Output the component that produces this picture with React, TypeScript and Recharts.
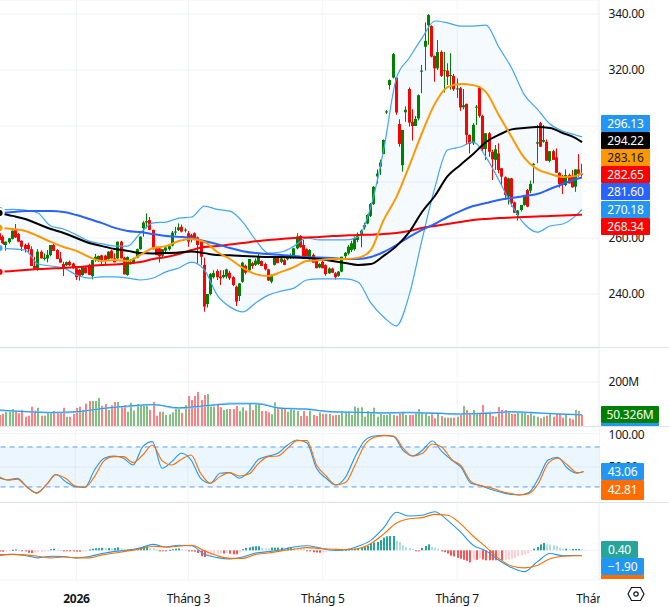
import { Area, Bar, CartesianGrid, ComposedChart, Line, ReferenceArea, ReferenceLine, XAxis, YAxis } from 'recharts'

// --- DATA ---
// one row per trading session: open, high, low, close
const OHLC: number[][] = [
  [261.7, 262.5, 259, 259.3], [260.5, 261, 257.3, 257.5], [257.5, 258.7, 255.5, 258.7], [258.5, 260, 258, 259.9], [259.7, 262.7, 259.5, 262.6], [262.8, 265, 260, 260.2],
  [261.4, 261.8, 258.5, 258.7], [259, 259.2, 255.3, 256.9], [257.5, 258, 254.8, 256], [257.5, 258.3, 255, 256], [256, 257, 250, 250], [250, 253.3, 248.8, 249.1],
  [249.2, 256, 248.3, 255.1], [255.1, 255.6, 252.7, 252.7], [252.5, 254.5, 252, 253], [252.7, 255.7, 251.3, 254], [253.9, 257.5, 253.5, 257.5], [257.5, 258, 255.3, 255.4],
  [255.7, 256, 252.5, 252.5], [252.7, 255, 251.2, 251.2], [250.7, 251.5, 246.4, 249.5], [250.3, 251.6, 250, 251.4], [251.5, 252, 250, 250.3], [250.9, 251.2, 248.9, 249.2],
  [249.2, 249.5, 245, 246], [248.6, 249, 244.8, 246.4], [246.8, 249.8, 246.5, 249.8], [249.5, 250, 247.4, 247.4], [250.4, 250.8, 246.8, 246.8], [246.4, 252.1, 245.2, 252.1],
  [252.4, 254.3, 251.5, 253.3], [252.1, 253.7, 251.5, 253.6], [253.8, 254, 250.7, 252], [253.7, 254, 250.4, 252], [252.5, 255.3, 252, 255.1], [255.5, 255.8, 252.7, 252.7],
  [252.7, 254.5, 251.3, 251.3], [252.7, 258.7, 252.5, 258.7], [258.7, 259, 252.7, 252.7], [253, 253.3, 247, 247], [246.8, 253.4, 246.5, 253.2], [250.8, 252.5, 250.5, 251.5],
  [251.2, 253, 250.8, 252.7], [253, 256.2, 252.8, 256], [256, 260.5, 255.8, 260.5], [263.5, 266, 260.5, 265.5], [265.5, 268.8, 263.5, 266], [266.4, 267.5, 262.8, 262.9],
  [262.9, 263, 255.9, 256], [256.3, 256.8, 253.9, 253.9], [256.3, 256.5, 251.2, 253.5], [253.7, 256, 253.3, 256], [255.5, 257, 255, 256.6], [256, 257.5, 255.5, 257.1],
  [257.3, 262.5, 257, 261.9], [262, 264, 261, 262.3], [262.8, 265.2, 262.5, 263.8], [264, 264.8, 262, 262.3], [262.8, 263.5, 262, 263], [261.7, 262.5, 256.9, 258.7],
  [261, 261.5, 258.5, 259.5], [261.7, 262, 259.2, 259.3], [260.2, 260.5, 250.9, 257.5], [258.8, 259, 250.3, 253.3], [250.4, 253, 233.7, 235.5], [236.4, 240, 235.2, 240],
  [240, 247.5, 239.5, 247.1], [246, 248.5, 245.5, 247.5], [248.2, 248.8, 245, 246], [246.2, 248.5, 243.2, 245.6], [246, 248.5, 245.6, 246.8], [246.2, 249, 245.5, 248.8],
  [247.6, 248.3, 245, 245.6], [246, 246.3, 242.8, 243.2], [242.6, 243, 235.7, 237.3], [239.3, 243.8, 237.5, 243.8], [244.4, 251.5, 244, 251.2], [250.1, 250.5, 247, 247.6],
  [248.5, 252.5, 248, 252.5], [251, 251.5, 249, 250], [250.4, 252.7, 250, 251.9], [250.7, 254.5, 250.4, 253.3], [251.8, 252, 250, 250], [250.7, 251.2, 248.4, 248.8],
  [248.8, 249, 244.7, 244.8], [244.4, 247, 243.8, 246.8], [250.4, 253.6, 250.2, 253.6], [253.1, 253.3, 251, 251], [251.5, 253.5, 251, 252.7], [252.1, 252.7, 250.3, 250.4],
  [252.4, 254, 252, 253], [252.9, 254.5, 252.5, 253.6], [252.9, 256.5, 252.7, 256.3], [256.3, 261.7, 256, 260.5], [260.7, 261, 256.5, 256.7], [257.5, 259.3, 252.7, 252.7],
  [256, 256.3, 252.5, 252.5], [252.7, 256, 252.3, 255.7], [254, 254.5, 251.2, 251.2], [252.4, 252.8, 249.2, 249.2], [249.5, 251, 249.2, 250.7], [251.5, 252.5, 249.2, 249.2],
  [250.3, 250.6, 246.5, 247.1], [247.4, 249.5, 247.2, 249.1], [249.1, 249.4, 247.5, 247.6], [247.4, 247.8, 245.2, 246], [246.5, 248.2, 246.2, 248], [248, 253.3, 247.8, 253.3],
  [253.5, 255, 252.7, 254.7], [254.5, 257.5, 254, 256.9], [255.7, 259, 255, 258.1], [256, 260.5, 255.5, 259.9], [259.3, 262, 258.5, 261.1], [261.1, 263, 256.7, 262.6],
  [263.8, 265.5, 263, 264.6], [265.2, 268.5, 264.9, 268.2], [267.9, 272.5, 267.5, 272.1], [272.1, 278.5, 271.8, 278.3], [282, 284.5, 279.5, 283], [285.5, 288, 282.5, 287],
  [290, 295.2, 290, 295], [304.9, 305.7, 304.3, 305.2], [314.6, 316.6, 313, 316.4], [317.3, 326, 317, 325.7], [317.3, 317.5, 304, 304.8], [300.7, 302.4, 292.6, 293.6],
  [286, 298.6, 283.7, 298.6], [304.9, 307, 301.5, 305.8], [313.2, 313.8, 299.8, 301.2], [301.5, 306, 294.8, 300], [300, 303.6, 300, 302.5], [302.7, 311.3, 302, 311],
  [319.4, 321.8, 311.7, 319.8], [328.3, 337, 319.8, 330.4], [336, 340, 329, 339.6], [335.7, 336, 324.5, 324.8], [325, 325.2, 315.8, 320.6], [320.6, 330.7, 320, 326.4],
  [326.5, 327, 317.5, 317.9], [319.6, 326.5, 312, 319.9], [319.8, 322.4, 314.6, 317.6], [318, 326, 313, 318.2], [317.9, 318.6, 312.5, 313.1], [313.2, 317, 310, 313.4],
  [313.5, 314, 305.4, 306.6], [306.7, 313.2, 306, 307.4], [307.9, 308, 293.2, 296.8], [296.8, 297, 290.2, 293.6], [293.8, 301, 293.2, 300.4], [306.6, 307.5, 300.4, 306.9],
  [314, 314.3, 303, 303.6], [303.6, 304, 291, 291.8], [291.8, 297.4, 287.8, 297.4], [297.4, 297.8, 289, 290.8], [290.8, 291.5, 280.7, 288.1], [287.9, 293.2, 284.3, 291.7],
  [290.2, 293.8, 283.1, 284.3], [284.9, 285, 278.9, 281.9], [281.7, 282, 273.6, 275.4], [274.8, 281.5, 272, 281.3], [281.3, 281.5, 271.2, 272.4], [272.7, 273, 269, 269],
  [268.2, 270, 266.2, 269.8], [270, 271.8, 269.5, 271.8], [271.8, 275.4, 271.5, 275.4], [277.1, 277.5, 271, 271.2], [276.9, 280.5, 276, 279.3], [286, 286.8, 279.5, 286.5],
  [293.7, 300.4, 286.7, 294.2], [301, 301.5, 292.5, 292.6], [294.4, 300.4, 294, 295], [294.4, 295.2, 287.6, 287.6], [287.5, 291, 287, 291], [291, 291.5, 287.9, 287.9],
  [288.8, 292, 283.3, 283.3], [283.3, 283.5, 278, 279.3], [281.9, 282.5, 275.7, 278.9], [278.9, 284.5, 278.5, 282.5], [282.5, 283, 279.5, 279.5], [281.9, 284.3, 278, 278.1],
  [278.3, 284.5, 276.5, 284.5], [284.5, 290, 281.9, 282.9], [283, 286.5, 281.9, 282.65],
]

// volume per session, in millions
const VOLUME = [
  50, 55, 65, 65, 77, 65, 58, 73, 42, 47, 88, 70, 83, 47, 47, 62, 60, 68, 60, 62, 83, 42, 42, 55, 82, 88, 73, 102, 114, 114, 114,
  127, 91, 100, 73, 94, 109, 109, 88, 95, 65, 105, 70, 100, 92, 92, 92, 73, 109, 47, 65, 65, 50, 53, 62, 80, 80, 60, 95, 136, 118,
  136, 155, 118, 141, 145, 88, 88, 100, 85, 73, 77, 77, 77, 91, 68, 85, 70, 103, 73, 98, 98, 68, 68, 62, 53, 108, 85, 85, 77, 65,
  76, 73, 68, 45, 68, 45, 70, 50, 45, 62, 55, 55, 55, 48, 50, 50, 68, 65, 65, 50, 88, 83, 85, 42, 68, 60, 83, 42, 57, 50, 50,
  57, 50, 47, 57, 65, 50, 50, 50, 57, 77, 62, 57, 45, 53, 35, 57, 45, 38, 38, 38, 38, 42, 50, 91, 73, 60, 73, 57, 57, 95,
  57, 65, 45, 42, 86, 73, 73, 65, 55, 55, 65, 65, 65, 50, 65, 47, 42, 35, 42, 47, 57, 42, 57, 57, 38, 53, 35, 30, 73, 68, 50.326,
]

// MACD histogram per session
const MACD_HIST = [
  -0.5, -0.5, -0.3, -0.2, 0.2, 0.3, 0.2, -0.2, -0.4, -0.9, -1, -0.8, -0.7, -0.6, -0.5, -0.3, 0.4, 0.6, 0.3, 0.1, -0.2, -0.3, -0.4, -0.4, -0.5, -0.5,
  -0.2, -0.1, 0.3, 0.6, 0.8, 0.8, 0.9, 0.8, 0.8, 0.7, 0.8, 1.1, 0.6, 0.4, 0.4, 0.4, 0.2, 0.5, 0.9, 1.5, 1.5, 0.9, 0.7, 0.2, -0.2, -0.2, -0.2, 0.2,
  0.4, 0.6, 0.7, 0.3, 0.2, -0.2, -0.4, -0.5, -1, -2.2, -2.5, -2.2, -2, -1.6, -1.3, -1.2, -1.2, -1.1, -1.3, -1.5, -1.5, -0.7, 0.4, 0.9, 1.1, 1.4, 1.5,
  1.5, 1, 0.7, 0.6, 1, 1, 1, 1, 0.9, 1, 1.1, 1, 0.9, 0.7, 0.5, -0.3, -0.4, -0.7, -0.8, -0.9, -0.8, -0.7, -0.4, -0.2, 0.1, 0.1, 0.1, 0.2, 0.3, 0.4,
  0.6, 0.8, 1, 1.3, 1.6, 2.4, 2.9, 3.1, 3.8, 4.7, 5.2, 5.3, 5.3, 3.5, 3.1, 1.9, 1.2, 0.9, 0.4, -0.1, -0.2, 0.9, 1.6, 2.2, 1.2, 1, 0.6, -0.4, -0.7,
  -1.2, -2, -2.3, -2.8, -3.1, -3.5, -3.9, -4.5, -3.5, -3.5, -3.1, -3.4, -3.7, -3.7, -3.7, -3.7, -3.5, -3.7, -3.5, -3.4, -3.2, -2.9, -2.2, -1.9, -1.5,
  -1, -0.2, 0.6, 1.2, 2.2, 2.7, 2.2, 2.1, 1.9, 1.6, 1, 0.6, 0.6, 0.4, 0.5, 0.5, 0.5, 0.4,
]

// read every 4th session, plus the last one
const BB_UPPER = [270, 270.2, 270, 268.9, 264.3, 263.2, 261.1, 258.9, 257.9, 257.1, 257.1, 261.8, 265.4, 265.7, 267.1, 267.5, 271.4, 270.2, 269.6, 265.7, 259.3, 254.6, 255, 257.1, 260, 259.3, 259.3, 259.3, 260.4, 271.1, 291.4, 317.1, 324.3, 331.4, 337.5, 336.8, 335.7, 335.7, 336, 328.2, 320.7, 311.1, 306.1, 300.7, 298.2, 296.8, 296.13]
const BB_MID = [263.6, 263.2, 262.5, 260.7, 258.6, 256.8, 255.4, 253.2, 251.8, 252.1, 251.8, 254, 256.4, 257.1, 258.9, 259.6, 258.6, 255, 252.5, 249.3, 247.1, 246.4, 247.9, 249.6, 251.8, 252.1, 252.5, 252.5, 252.9, 255.7, 266.4, 274.6, 285.7, 297.5, 307.9, 313.9, 315, 314.6, 312.1, 303.9, 296.1, 288.6, 284.6, 282.9, 281.8, 282.1, 283.16]
const BB_LOWER = [256.4, 256.1, 255.7, 250.7, 250, 249.3, 246.8, 245.7, 246.1, 246.1, 245.7, 245, 245.7, 247.9, 249.3, 251.4, 248.6, 239.6, 235.4, 233.6, 236.8, 239.6, 241, 242.1, 245, 245.4, 245.4, 245.4, 244.3, 236.8, 231.8, 228.6, 239.6, 259.3, 277.9, 291.4, 292.5, 294.3, 288.9, 280.7, 271.8, 265, 262.1, 264.3, 265, 267.9, 270.18]
const MA_BLACK = [268.9, 267.9, 266.8, 265, 263.2, 261.8, 260, 258.2, 257.1, 256.1, 255.4, 254.6, 254.5, 254.6, 254.8, 255.2, 254.6, 253.9, 253.8, 253.6, 253.4, 253.2, 253.2, 253, 252.9, 252.5, 251.8, 251.1, 250.4, 250.7, 253.6, 257.1, 262.1, 269.3, 275, 282.1, 286.1, 290, 294.3, 296.8, 298.8, 299.3, 299.6, 299.3, 297.5, 295.7, 294.22]
const MA_BLUE = [268.9, 269.3, 269.6, 269.6, 269.6, 269.3, 268.2, 266.8, 265.3, 263.6, 262.5, 262.1, 261.4, 260.7, 260.4, 260, 258.9, 257.8, 256.4, 255.3, 254.6, 254.3, 253.9, 253.6, 253.2, 253, 252.9, 252.5, 252.5, 253.2, 255, 257.5, 260.4, 262.9, 265, 267.5, 269.6, 271.4, 272.5, 273.6, 274.3, 275, 275.7, 277.5, 279.3, 281, 281.6]
const MA_RED = [247.9, 248.2, 248.6, 248.9, 249.1, 249.3, 249.6, 250, 250.4, 250.5, 250.9, 251.4, 252.5, 253.2, 254.3, 255.7, 256.8, 257.1, 257.7, 258.2, 258.8, 259.3, 259.6, 260, 260.2, 260.4, 260.7, 260.9, 261.1, 261.2, 261.4, 261.8, 262.5, 263.6, 264.3, 265, 265.7, 266.4, 266.8, 267.1, 267.3, 267.5, 267.7, 267.9, 268, 268.2, 268.34]
const MACD_LINE = [-1.6, -1.5, -1.9, -2.8, -2.2, -2.3, -2.8, -2.3, -1.2, -0.4, 0, 0.9, 2.2, 1.2, 1.9, 1.7, -1.5, -2.7, -3.2, -2.5, -1, -0.5, 0.2, 1.2, 1.7, 0.9, 0, 0.2, 1.5, 3.7, 8.3, 14.1, 12.7, 13, 14.3, 11.1, 6.8, 1.9, -0.2, -3.7, -6.4, -7.9, -4.3, -1.2, -2, -1.9, -1.9]
const MACD_SIGNAL = [-1.9, -1.5, -1.7, -2.2, -2.8, -2.5, -2.8, -2.8, -1.7, -1, -0.2, 0.5, 1.5, 1.2, 1.5, 1.9, -0.2, -2, -3, -3, -1.5, -1, -0.2, 0.4, 1, 0.7, 0.4, 0.2, 0.6, 2.5, 6, 10.1, 11.7, 12.1, 13.3, 13, 9.9, 5.2, 1.2, -3.1, -5.8, -6.5, -5.6, -3.1, -2.2, -2, -2]

// read every 3rd session, plus the last one
const STOCH_K = [34.5, 30.5, 33, 20.5, 10.5, 23, 39, 28, 20.5, 19.5, 45.5, 63, 66.5, 63, 53, 80.5, 88, 48, 58, 70.5, 60.5, 33, 25.5, 40.5, 41.5, 33, 43, 61.5, 66.5, 70.5, 83, 90.5, 86.5, 48, 33, 23, 34.5, 65.5, 89.5, 96.5, 97.5, 95.5, 74.5, 66.5, 75.5, 89, 73, 60.5, 49, 25.5, 22, 16.5, 12.5, 9, 8, 11.5, 33, 60.5, 64.5, 48, 40.5, 43.06]
const STOCH_D = [36.5, 30.5, 31.5, 19.5, 11.5, 23, 38, 33, 21.5, 19.5, 35.5, 59.5, 65.5, 65.5, 56.5, 68, 83, 59.5, 53, 61.5, 68, 40.5, 25.5, 35.5, 41.5, 36.5, 39.5, 55.5, 65.5, 66.5, 78, 89.5, 89.5, 53, 36.5, 23, 26.5, 53, 83, 94.5, 97, 96.5, 78, 66.5, 70.5, 84.5, 79.5, 61.5, 51.5, 28, 22, 19, 14, 10.5, 8, 10, 25.5, 55.5, 63, 53, 41.5, 42.81]

// read every 8th session, plus the last one
const VOL_MA = [73, 65, 62, 65, 79, 91, 97, 83, 92, 100, 101, 80, 76, 65, 62, 60, 60, 57, 55, 57, 65, 60, 53, 50]
const VOL_MA_SLOW = [71, 66, 60, 63, 80, 88, 98, 80, 90, 103, 103, 82, 78, 63, 63, 58, 62, 60, 52, 60, 63, 58, 55, 52]

const MONTH_TICKS = [24, 59, 101, 143, 187]
const MONTH_LABELS = ['2026', 'Tháng 3', 'Tháng 5', 'Tháng 7', 'Tháng 9']
const PRICE_TICKS = [240, 260, 280, 300, 320, 340]
const PRICE_TICKS_UNDER_TAGS = [280, 300]
const VOLUME_TICKS = [200]
const STOCH_TICKS = [0, 50, 100]
const MACD_TICKS = [0]

const PRICE_TAGS = [
  { label: '296.13', top: 115, bg: '#2196f3', fg: '#fff' },
  { label: '294.22', top: 132, bg: '#000', fg: '#fff' },
  { label: '283.16', top: 149, bg: '#ff9800', fg: '#131722' },
  { label: '282.65', top: 166, bg: '#ff0000', fg: '#fff' },
  { label: '281.60', top: 183, bg: '#2962ff', fg: '#fff' },
  { label: '270.18', top: 201, bg: '#2196f3', fg: '#fff' },
  { label: '268.34', top: 218, bg: '#ff0000', fg: '#fff' },
]

const FONT = '"Noto Sans", sans-serif'
const UP = '#008000'
const DOWN = '#ff0000'
const GRID = '#f0f3fa'
const SEPARATOR = '#e0e3eb'
const SLOTS = 188
const LAST_BAR = OHLC.length - 1

function sampled(values: number[], step: number, bar: number) {
  if (bar > LAST_BAR) return undefined
  if (bar === LAST_BAR) return values[values.length - 1]
  return bar % step === 0 ? values[bar / step] : undefined
}

function histColor(i: number) {
  const v = MACD_HIST[i]
  const prev = MACD_HIST[i - 1] ?? 0
  if (v >= 0) return v >= prev ? '#26a69a' : '#b2dfdb'
  return v <= prev ? '#ff5252' : '#ffcdd2'
}

const rows = Array.from({ length: SLOTS }, (_, bar) => {
  const candle = OHLC[bar]
  const upper = sampled(BB_UPPER, 4, bar)
  const lower = sampled(BB_LOWER, 4, bar)
  return {
    bar,
    open: candle?.[0],
    high: candle?.[1],
    low: candle?.[2],
    close: candle?.[3],
    range: candle ? [candle[2], candle[1]] : undefined,
    volume: VOLUME[bar],
    volumeColor: candle && candle[3] >= candle[0] ? '#80c080' : '#ff8080',
    hist: MACD_HIST[bar],
    histColor: bar <= LAST_BAR ? histColor(bar) : 'none',
    band: upper !== undefined && lower !== undefined ? [lower, upper] : undefined,
    upper,
    lower,
    mid: sampled(BB_MID, 4, bar),
    black: sampled(MA_BLACK, 4, bar),
    blue: sampled(MA_BLUE, 4, bar),
    red: sampled(MA_RED, 4, bar),
    macd: sampled(MACD_LINE, 4, bar),
    signal: sampled(MACD_SIGNAL, 4, bar),
    k: sampled(STOCH_K, 3, bar),
    d: sampled(STOCH_D, 3, bar),
    volMa: sampled(VOL_MA, 8, bar),
    volMaSlow: sampled(VOL_MA_SLOW, 8, bar),
  }
})

function CandleShape(props: any) {
  const { x, y, width, height, payload } = props
  if (payload.open === undefined) return null
  const perUnit = height / (payload.high - payload.low)
  const cx = Math.round(x + width / 2 - 0.5)
  const color = payload.close >= payload.open ? UP : DOWN
  const bodyTop = y + (payload.high - Math.max(payload.open, payload.close)) * perUnit
  const bodyHeight = Math.max(1, Math.abs(payload.open - payload.close) * perUnit)
  return (
    <g>
      <rect x={cx} y={y} width={1} height={height} fill={color} />
      <rect x={cx - 1} y={bodyTop} width={3} height={bodyHeight} fill={color} />
    </g>
  )
}

// two pixel wide column, kept on whole pixels like the source chart
function ColumnShape(colorKey: string) {
  return function Column(props: any) {
    const { x, y, height, payload } = props
    const top = Math.min(y, y + height)
    return <rect x={Math.round(x)} y={top} width={2} height={Math.max(1, Math.abs(height))} fill={payload[colorKey]} />
  }
}
const VolumeColumn = ColumnShape('volumeColor')
const HistColumn = ColumnShape('histColor')

function MonthTick(props: any) {
  const { x, y, payload } = props
  const i = MONTH_TICKS.indexOf(payload.value)
  return (
    <text x={x} y={y + 15} textAnchor="middle" fontSize={12} letterSpacing={-0.3} fill="#131722" fontFamily={FONT} fontWeight={i === 0 ? 700 : 400}>
      {MONTH_LABELS[i]}
    </text>
  )
}

const axisTick = { fill: '#131722', fontSize: 12, fontFamily: FONT, letterSpacing: -0.3 }
const noMargin = { top: 0, right: 0, bottom: 0, left: 0 }

function Tag({ label, top, left = 601, width = 49, height = 17, bg, fg = '#fff' }: any) {
  return (
    <div style={{
      position: 'absolute', left, top, width, height, background: bg, color: fg, borderRadius: 1,
      fontFamily: FONT, fontSize: 12, letterSpacing: -0.2, lineHeight: `${height}px`, textAlign: 'center',
    }}>
      {label}
    </div>
  )
}

function Separator({ top }: { top: number }) {
  return <div style={{ position: 'absolute', left: 0, top, width: 669, height: 1, background: SEPARATOR }} />
}

export default function App() {
  return (
    <div style={{ position: 'absolute', left: 0, top: 0, width: 669, height: 607, overflow: 'hidden', background: '#fff' }}>
      {/* price pane */}
      <ComposedChart width={672} height={347} data={rows} margin={noMargin} style={{ position: 'absolute', left: -2, top: 0 }}>
        <CartesianGrid stroke={GRID} />
        <XAxis dataKey="bar" hide ticks={MONTH_TICKS} interval={0} />
        <YAxis orientation="right" width={70.4} domain={[221.07, 345]} ticks={PRICE_TICKS} tick={axisTick} tickFormatter={(v) => (PRICE_TICKS_UNDER_TAGS.includes(v) ? '' : v.toFixed(2))} axisLine={false} tickLine={false} tickMargin={3} />
        <Area dataKey="band" type="monotone" connectNulls stroke="none" fill="#2196f3" fillOpacity={0.05} isAnimationActive={false} />
        <Line dataKey="upper" type="monotone" connectNulls dot={false} stroke="#42a5f5" strokeWidth={1.2} isAnimationActive={false} />
        <Line dataKey="lower" type="monotone" connectNulls dot={false} stroke="#42a5f5" strokeWidth={1.2} isAnimationActive={false} />
        <Line dataKey="red" type="monotone" connectNulls dot={false} stroke="#ff0000" strokeWidth={2} isAnimationActive={false} />
        <Line dataKey="blue" type="monotone" connectNulls dot={false} stroke="#2962ff" strokeWidth={2} isAnimationActive={false} />
        <Line dataKey="black" type="monotone" connectNulls dot={false} stroke="#000" strokeWidth={2} isAnimationActive={false} />
        <Line dataKey="mid" type="monotone" connectNulls dot={false} stroke="#ff9800" strokeWidth={2} isAnimationActive={false} />
        <Bar dataKey="range" barSize={3} shape={CandleShape} isAnimationActive={false} />
      </ComposedChart>

      {/* volume pane */}
      <ComposedChart width={672} height={78} data={rows} margin={noMargin} style={{ position: 'absolute', left: -2, top: 348 }}>
        <CartesianGrid stroke={GRID} />
        <XAxis dataKey="bar" hide ticks={MONTH_TICKS} interval={0} />
        <YAxis orientation="right" width={70.4} domain={[0, 354.5]} ticks={VOLUME_TICKS} tick={axisTick} tickFormatter={(v) => `${v}M`} axisLine={false} tickLine={false} tickMargin={3} />
        <Bar dataKey="volume" barSize={2} shape={VolumeColumn} isAnimationActive={false} />
        <Line dataKey="volMaSlow" type="monotone" connectNulls dot={false} stroke="#90caf9" strokeWidth={1.5} isAnimationActive={false} />
        <Line dataKey="volMa" type="monotone" connectNulls dot={false} stroke="#2196f3" strokeWidth={1} isAnimationActive={false} />
      </ComposedChart>

      {/* stochastic pane */}
      <ComposedChart width={672} height={75} data={rows} margin={noMargin} style={{ position: 'absolute', left: -2, top: 427 }}>
        <CartesianGrid stroke={GRID} />
        <XAxis dataKey="bar" hide ticks={MONTH_TICKS} interval={0} />
        <YAxis orientation="right" width={70.4} domain={[-2.6, 110]} ticks={STOCH_TICKS} tick={axisTick} tickFormatter={(v) => v.toFixed(2)} axisLine={false} tickLine={false} tickMargin={3} />
        <ReferenceArea y1={20} y2={80} fill="#2196f3" fillOpacity={0.09} stroke="none" />
        <ReferenceLine y={80} stroke="#5b9cf6" strokeDasharray="5 4" />
        <ReferenceLine y={20} stroke="#5b9cf6" strokeDasharray="5 4" />
        <Line dataKey="k" type="monotone" connectNulls dot={false} stroke="#2196f3" strokeWidth={1.1} isAnimationActive={false} />
        <Line dataKey="d" type="monotone" connectNulls dot={false} stroke="#ff6d00" strokeWidth={1.1} isAnimationActive={false} />
      </ComposedChart>

      {/* macd pane with the time axis */}
      <ComposedChart width={672} height={105} data={rows} margin={noMargin} style={{ position: 'absolute', left: -2, top: 502 }}>
        <CartesianGrid stroke={GRID} />
        <XAxis dataKey="bar" height={27} ticks={MONTH_TICKS} interval={0} tick={MonthTick} axisLine={false} tickLine={false} />
        <YAxis orientation="right" width={70.4} domain={[-11, 17.9]} ticks={MACD_TICKS} tick={axisTick} tickFormatter={() => ''} axisLine={false} tickLine={false} tickMargin={3} />
        <Bar dataKey="hist" barSize={2} shape={HistColumn} isAnimationActive={false} />
        <Line dataKey="macd" type="monotone" connectNulls dot={false} stroke="#2196f3" strokeWidth={1.1} isAnimationActive={false} />
        <Line dataKey="signal" type="monotone" connectNulls dot={false} stroke="#ff6d00" strokeWidth={1.1} isAnimationActive={false} />
      </ComposedChart>

      <Separator top={347} />
      <Separator top={426} />
      <Separator top={502} />

      {/* the time scale stops where the price scale starts */}
      <div style={{ position: 'absolute', left: 600, top: 580, width: 69, height: 27, background: '#fff' }} />
      <svg width={18} height={16} style={{ position: 'absolute', left: 627, top: 586 }}>
        <polygon points="4.5,1.5 13.5,1.5 17,8 13.5,14.5 4.5,14.5 1,8" fill="none" stroke="#131722" strokeWidth={1.2} />
        <circle cx={9} cy={8} r={2.2} fill="none" stroke="#131722" strokeWidth={1.2} />
      </svg>

      {PRICE_TAGS.map((t) => (
        <Tag key={t.label} label={t.label} top={t.top} bg={t.bg} fg={t.fg} />
      ))}

      <Tag label="50.326M" top={406} width={58} bg="#008000" />
      <div style={{ position: 'absolute', left: 601, top: 423, width: 58, height: 3, background: '#2196f3' }} />

      <Tag label="43.06" top={463} width={43} bg="#2196f3" />
      <Tag label="42.81" top={480} width={43} height={20} bg="#ff6d00" />

      <Tag label="0.40" top={541} width={37} bg="#26a69a" />
      <Tag label="−1.90" top={558} width={43} bg="#2196f3" />
      <div style={{ position: 'absolute', left: 601, top: 575, width: 43, height: 4, background: '#ff6d00' }} />
    </div>
  )
}
